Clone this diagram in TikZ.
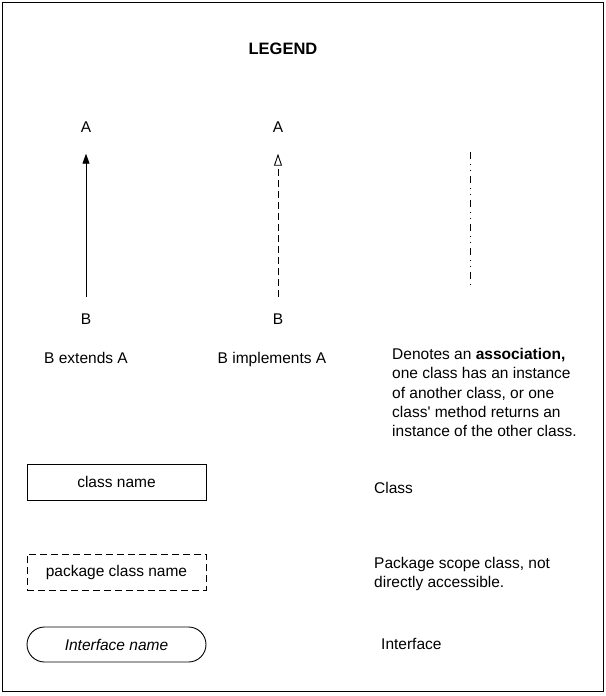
\documentclass[tikz,border=0pt]{standalone}
\usepackage{fontspec}
\setmainfont{Liberation Sans}
\usetikzlibrary{arrows.meta,shapes.misc}
\begin{document}
\begin{tikzpicture}[x=1pt,y=-1pt,
  lbl/.style={font=\fontsize{15.5}{19.25}\selectfont, inner sep=0pt, anchor=base},
  desc/.style={font=\fontsize{15.5}{19.25}\selectfont, inner sep=0pt, anchor=base west, align=left},
  classbox/.style={draw, line width=0.9pt, minimum width=179pt, minimum height=36pt, inner sep=0pt, font=\fontsize{15.5}{19.25}\selectfont},
  conn/.style={line width=0.9pt},
]
\useasboundingbox (0,0) rectangle (605,696);
\draw[line width=1pt] (2.5,2.5) rectangle (603,691);

\node[font=\bfseries\fontsize{16.5}{20}\selectfont, inner sep=0pt] (title) at (283,49) {LEGEND};

% extends
\node[lbl] (a1) at (86,132.5) {A};
\node[lbl] (b1) at (86,324) {B};
\path (b1.north) ++(0,-16) coordinate (b1s) (a1.south) ++(0,21) coordinate (a1e);
\draw[conn, -{Triangle[width=7pt,length=10pt]}] (b1s) -- (a1e);
\node[lbl] (t1) at (86,363.5) {B extends A};

% implements
\node[lbl] (a2) at (278,132.5) {A};
\node[lbl] (b2) at (278,324) {B};
\path (b2.north) ++(0,-16) coordinate (b2s) (a2.south) ++(0,21) coordinate (a2e);
\draw[conn, dash pattern=on 7pt off 4pt, -{Triangle[open,width=8pt,length=12pt,line width=0.9pt]}] (b2s) -- (a2e);
\node[lbl] (t2) at (272,363.5) {B implements A};

% association
\coordinate (c1) at (470,152);
\coordinate (c2) at (470,286);
\draw[conn, dash pattern=on 7pt off 5pt on 1pt off 5pt on 1pt off 5pt] (c1) -- (c2);
\node[desc] (t3) at (392,436.5) {Denotes an \textbf{association,}\\one class has an instance\\of another class, or one\\class\textquotesingle{} method returns an\\instance of the other class.};

% class boxes
\node[classbox] (cls) at (116.5,482) {class name};
\node[desc] (d1) at (374,493.5) {Class};
\node[classbox, dash pattern=on 7pt off 4pt] (pkg) at (116.5,572) {package class name};
\node[desc] (d2) at (374,587.5) {Package scope class, not\\directly accessible.};
\node[classbox, rounded rectangle, minimum height=35pt] (ifc) at (116.5,644.5) {\itshape Interface name};
\node[desc] (d3) at (381,649.5) {Interface};
\end{tikzpicture}
\end{document}
